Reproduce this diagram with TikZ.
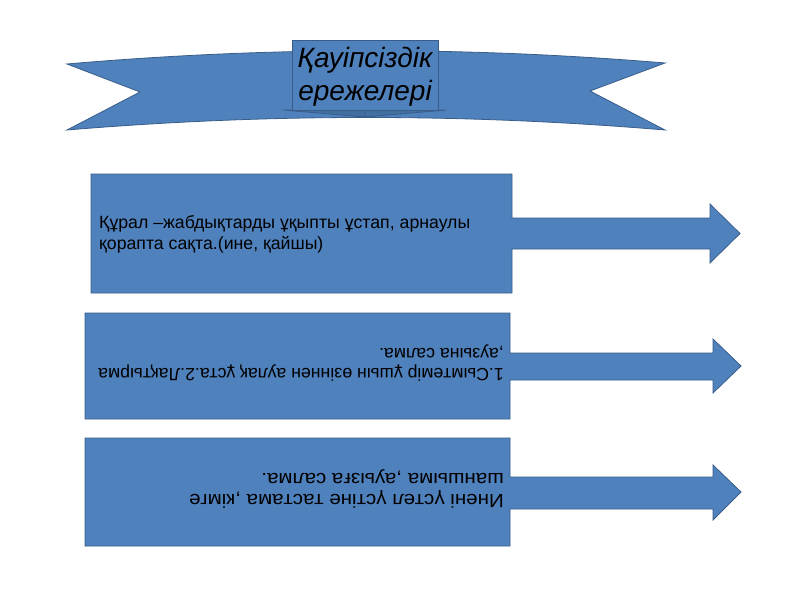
\documentclass[tikz,border=0pt]{standalone}
\usepackage{fontspec}
\setmainfont{Liberation Sans}
\newfontfamily\widesans{Liberation Sans}[FakeStretch=1.08]
\definecolor{ribbonblue}{HTML}{4F81BD}
\definecolor{edgeblue}{HTML}{385D8A}
\definecolor{foldblue}{HTML}{43709F}
\begin{document}
\begin{tikzpicture}[x=1pt,y=-1pt,
  shapefill/.style={fill=ribbonblue,draw=edgeblue,line width=0.8pt,line join=miter},
  foldfill/.style={fill=foldblue,draw=edgeblue,line width=0.8pt},
  bodytext/.style={font=\fontsize{17.7}{21}\selectfont,inner sep=0pt,text=black},
  widetext/.style={font=\widesans\fontsize{19}{21}\selectfont,inner sep=0pt,text=black},
  titletext/.style={font=\fontsize{28}{32}\selectfont\itshape,inner sep=0pt,text=black}]
\useasboundingbox[fill=white] (0,0) rectangle (800,600);
% ribbon banner
\draw[shapefill] (67,64) .. controls (266.3,46.7) and (465.7,46.3) .. (665,63)
  -- (590,91) -- (665,130)
  .. controls (465.7,113.3) and (266.3,113.3) .. (67,130)
  -- (140,92) -- cycle;
% folds under the title box
\draw[foldfill] (283,110) -- (365,110) -- (365,117) -- cycle;
\draw[foldfill] (365,110) -- (446,110) -- (365,117) -- cycle;
% title box
\draw[shapefill] (292,40) rectangle (438,110);
\node[titletext,anchor=base] (t1) at (365,67) {Қауіпсіздік};
\node[titletext,anchor=base] (t2) at (365,100) {ережелері};
% arrow callout 1
\draw[shapefill] (91,174) -- (512,174) -- (512,218) -- (710,218) -- (710,204) -- (740,233.5)
  -- (710,263) -- (710,249) -- (512,249) -- (512,293) -- (91,293) -- cycle;
\node[bodytext,anchor=base west] (a1) at (99,228) {Құрал –жабдықтарды ұқыпты ұстап, арнаулы};
\node[bodytext,anchor=base west] (a2) at (99,249) {қорапта сақта.(ине, қайшы)};
% arrow callout 2
\draw[shapefill] (85,313) -- (510,313) -- (510,353) -- (713,353) -- (713,339) -- (741,366)
  -- (713,393) -- (713,380) -- (510,380) -- (510,419) -- (85,419) -- cycle;
\node[bodytext,anchor=base west,rotate=180] (b1) at (504,368) {1.Сымтемір ұшын өзіннен аулақ ұста.2.Лақтырма};
\node[bodytext,anchor=base west,rotate=180] (b2) at (504,348) {,аузына салма.};
% arrow callout 3
\draw[shapefill] (85,438) -- (510,438) -- (510,477) -- (713,477) -- (713,465) -- (741,492)
  -- (713,520) -- (713,509) -- (510,509) -- (510,546) -- (85,546) -- cycle;
\node[widetext,anchor=base west,rotate=180] (c1) at (504,494) {Инені үстел үстіне тастама ,кімге};
\node[widetext,anchor=base west,rotate=180] (c2) at (504,473) {шаншыма ,ауызға салма.};
\end{tikzpicture}
\end{document}
